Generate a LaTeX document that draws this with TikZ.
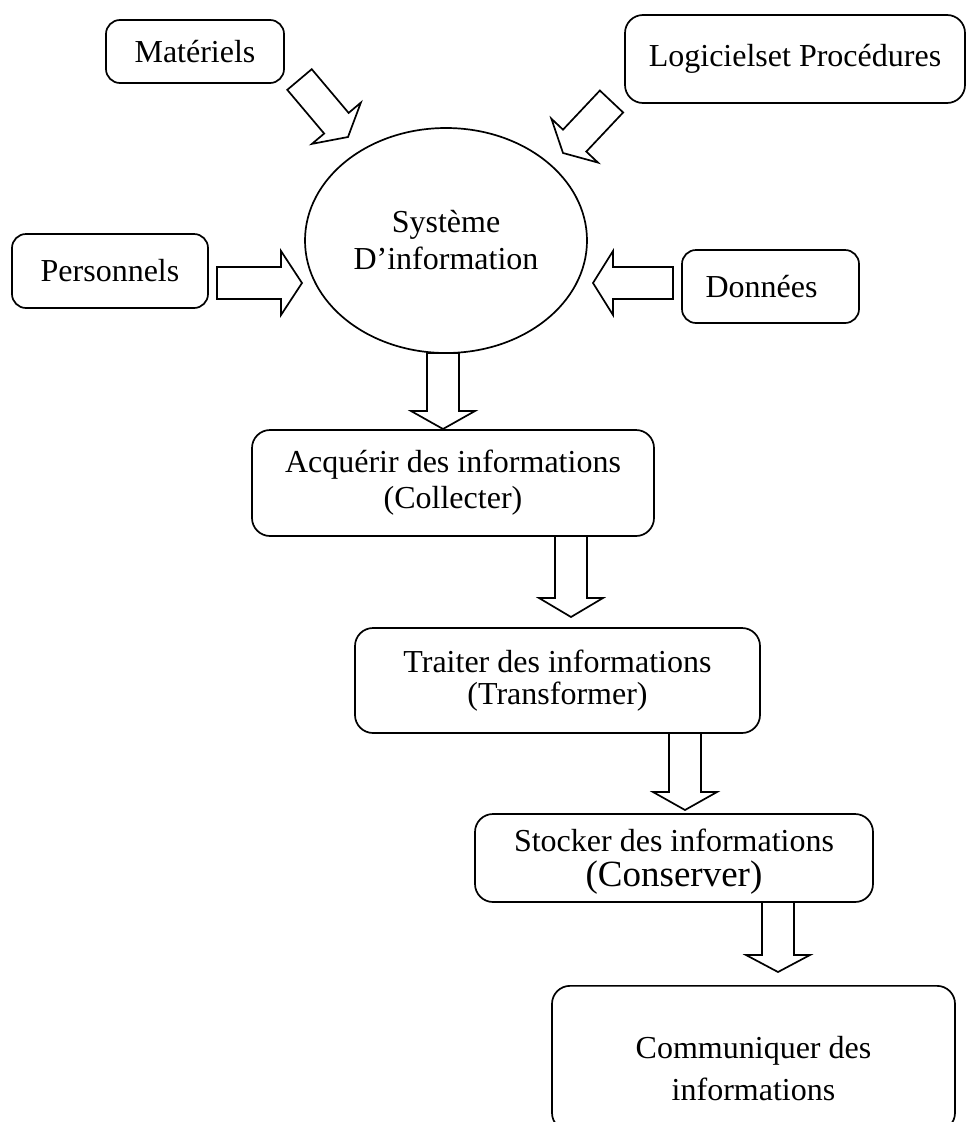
\documentclass[tikz,border=0pt]{standalone}
\usepackage{fontspec}
\setmainfont{Liberation Serif}
\usetikzlibrary{calc,shapes.geometric}

% one pt of the picture is one unit; y grows downwards
\tikzset{
  box/.style={draw, line width=1.7pt, rounded corners=14pt, align=center,
    inner sep=0pt, font=\fontsize{32}{36}\selectfont},
  sysnode/.style={draw, ellipse, line width=1.7pt, align=center,
    inner sep=0pt, font=\fontsize{32}{37}\selectfont},
  fatarrow/.style={draw, line width=1.7pt, line join=miter},
}

% hollow block arrow: #1 tail point, #2 tip point, #3 head length
\newcommand\blockarrow[3]{%
  \coordinate (ba-h) at ($(#2)!#3!(#1)$);
  \draw[fatarrow] ($(#1)!16pt!90:(#2)$) -- ($(ba-h)!16pt!-90:(#1)$)
    -- ($(ba-h)!32pt!-90:(#1)$) -- (#2) -- ($(ba-h)!32pt!90:(#1)$)
    -- ($(ba-h)!16pt!90:(#1)$) -- ($(#1)!16pt!-90:(#2)$) -- cycle;
}

\begin{document}
\begin{tikzpicture}[x=1pt, y=-1pt]
  \useasboundingbox (0,0) rectangle (967,1122);
  \clip (0,0) rectangle (967,1122);

  % central system
  \node[sysnode, minimum width=282pt, minimum height=225pt] (sys) at (446,240.5)
    {Système\\D’information};

  % inputs
  \node[box, minimum width=178pt, minimum height=63pt] (mat) at (195,51.5) {Matériels};
  \node[box, minimum width=340pt, minimum height=88pt, rounded corners=18pt] (log) at (795,59)
    {Logicielset Procédures};
  \node[box, minimum width=196pt, minimum height=74pt] (pers) at (110,271) {Personnels};
  \node[box, minimum width=177pt, minimum height=73pt] (don) at (770.5,286.5)
    {Données\hspace*{18pt}};

  % processing chain
  \node[box, minimum width=402pt, minimum height=106pt, rounded corners=18pt] (acq) at (453,483)
    {Acquérir des informations\\(Collecter)};
  \node[box, minimum width=405pt, minimum height=105pt, rounded corners=18pt] (tra) at (557.5,680.5)
    {Traiter des informations\\[-4pt](Transformer)};
  \node[box, minimum width=398pt, minimum height=88pt, rounded corners=18pt] (sto) at (674,858)
    {Stocker des informations\\[-1pt]{\fontsize{37}{40}\selectfont\raisebox{0pt}[\height][0pt]{(Conserver)}}};
  \node[box, anchor=north, minimum width=403pt, minimum height=145pt, rounded corners=18pt] (com) at (753.5,985)
    {\rule{0pt}{43pt}Communiquer des\\[6pt]informations};

  % arrow end points
  \coordinate (matT) at (299.5,79.5);  \coordinate (matH) at (348,137);
  \coordinate (logT) at (611.5,101.5); \coordinate (logH) at (563,153);
  \coordinate (persT) at (217,283);    \coordinate (persH) at (302,283);
  \coordinate (donT) at (673,283);     \coordinate (donH) at (593,283);
  \coordinate (sysT) at (443,353);     \coordinate (sysH) at (443,429);
  \coordinate (acqT) at (571,536);     \coordinate (acqH) at (571,617);
  \coordinate (traT) at (685,733);     \coordinate (traH) at (685,810);
  \coordinate (stoT) at (778,902);     \coordinate (stoH) at (778,972);

  \blockarrow{matT}{matH}{18pt}
  \blockarrow{logT}{logH}{17pt}
  \blockarrow{persT}{persH}{21pt}
  \blockarrow{donT}{donH}{20pt}
  \blockarrow{sysT}{sysH}{18pt}
  \blockarrow{acqT}{acqH}{19pt}
  \blockarrow{traT}{traH}{18pt}
  \blockarrow{stoT}{stoH}{17pt}
\end{tikzpicture}
\end{document}
